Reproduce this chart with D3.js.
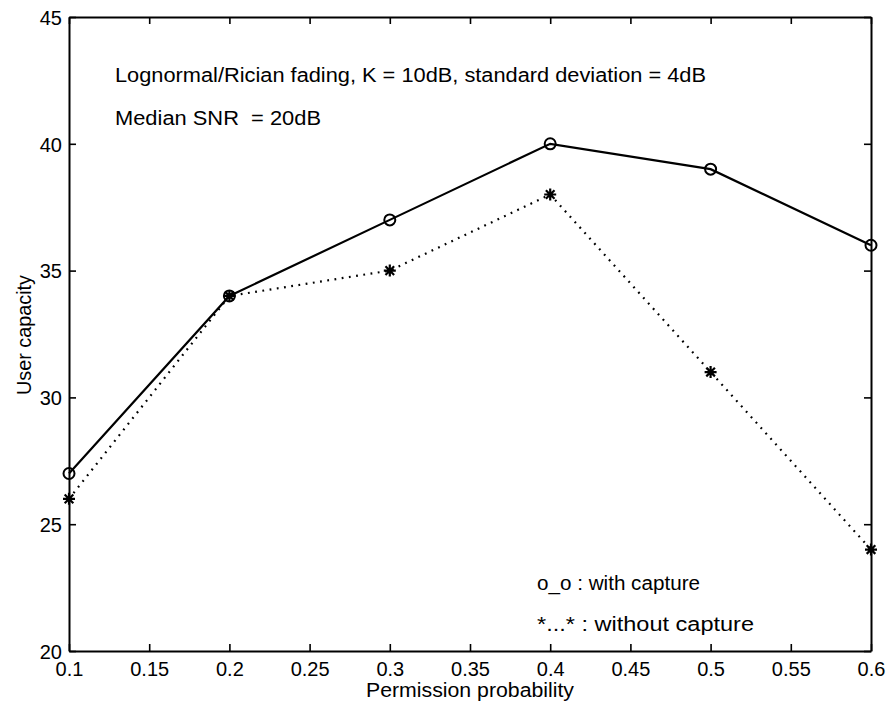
<!DOCTYPE html>
<html><head><meta charset="utf-8">
<script src="https://cdn.jsdelivr.net/npm/d3@7"></script>
<style>body{margin:0;background:#fff}svg text{font-family:"Liberation Sans",Arial,sans-serif;fill:#000;white-space:pre}</style>
</head><body><svg id="c" width="889" height="703"></svg>
<script>
const permission = [0.1, 0.2, 0.3, 0.4, 0.5, 0.6];
const withCapture = [27, 34, 37, 40, 39, 36];
const withoutCapture = [26, 34, 35, 38, 31, 24];
const xTicks = [0.1, 0.15, 0.2, 0.25, 0.3, 0.35, 0.4, 0.45, 0.5, 0.55, 0.6];
const yTicks = [20, 25, 30, 35, 40, 45];
const annotations = ["Lognormal/Rician fading, K = 10dB, standard deviation = 4dB", "Median SNR  = 20dB"];
const legendTexts = ["o_o : with capture", "*...* : without capture"];

const svg = d3.select("#c");
const L = 69, R = 871, T = 17, B = 651;
const x = d3.scaleLinear().domain([0.1, 0.6]).range([L, R]);
const y = d3.scaleLinear().domain([20, 45]).range([B, T]);
const fmt = d => String(d);

// axes
const ax = svg.append("g").attr("transform", `translate(0,${B})`)
  .call(d3.axisBottom(x).tickValues(xTicks).tickFormat(fmt).tickSizeInner(-7).tickSizeOuter(0).tickPadding(11));
const axT = svg.append("g").attr("transform", `translate(0,${T})`)
  .call(d3.axisTop(x).tickValues(xTicks).tickFormat("").tickSizeInner(-7).tickSizeOuter(0));
const ay = svg.append("g").attr("transform", `translate(${L},0)`)
  .call(d3.axisLeft(y).tickValues(yTicks).tickFormat(fmt).tickSizeInner(-7).tickSizeOuter(0).tickPadding(7));
const ayR = svg.append("g").attr("transform", `translate(${R},0)`)
  .call(d3.axisRight(y).tickValues(yTicks).tickFormat("").tickSizeInner(-7).tickSizeOuter(0));
[ax, axT, ay, ayR].forEach(g => {
  g.select(".domain").attr("stroke", "#000").attr("stroke-width", 2);
  g.selectAll(".tick line").attr("stroke", "#000").attr("stroke-width", 1.6);
  g.selectAll("text").style("font-size", "20px").attr("fill", "#000");
});
ay.selectAll(".tick text").attr("dy", "0.36em");

// lines
const line = d3.line().x((d, i) => x(permission[i])).y(d => y(d));
svg.append("path").datum(withCapture).attr("d", line)
  .attr("fill", "none").attr("stroke", "#000").attr("stroke-width", 2.2);
svg.append("path").datum(withoutCapture).attr("d", line)
  .attr("fill", "none").attr("stroke", "#000").attr("stroke-width", 2.2)
  .attr("stroke-dasharray", "1.8,5.5");

// circle markers
svg.append("g").selectAll("circle").data(withCapture).join("circle")
  .attr("cx", (d, i) => x(permission[i])).attr("cy", d => y(d)).attr("r", 5.5)
  .attr("fill", "none").attr("stroke", "#000").attr("stroke-width", 2);

// star markers
const s = 6;
const starPath = `M${-s},0L${s},0M0,${-s}L0,${s}M${-s*0.72},${-s*0.72}L${s*0.72},${s*0.72}M${-s*0.72},${s*0.72}L${s*0.72},${-s*0.72}`;
svg.append("g").selectAll("path").data(withoutCapture).join("path")
  .attr("transform", (d, i) => `translate(${x(permission[i])},${y(d)})`)
  .attr("d", starPath).attr("stroke", "#000").attr("stroke-width", 2.2).attr("fill", "none");

// annotations
function label(tx, ty, str, len, size) {
  return svg.append("text").attr("x", tx).attr("y", ty).style("font-size", size + "px")
    .attr("textLength", len).attr("lengthAdjust", "spacingAndGlyphs").text(str);
}
label(115, 82, annotations[0], 591, 20);
label(115, 125, annotations[1], 206, 20);
label(537, 590, legendTexts[0], 163, 20);
label(537, 631, legendTexts[1], 217, 20);

// axis titles
svg.append("text").attr("x", 470).attr("y", 697).attr("text-anchor", "middle")
  .style("font-size", "20px").attr("textLength", 208).attr("lengthAdjust", "spacingAndGlyphs")
  .text("Permission probability");
svg.append("text").attr("transform", `translate(31,335) rotate(-90)`)
  .attr("text-anchor", "middle").style("font-size", "20px")
  .attr("textLength", 120).attr("lengthAdjust", "spacingAndGlyphs").text("User capacity");
</script></body></html>
